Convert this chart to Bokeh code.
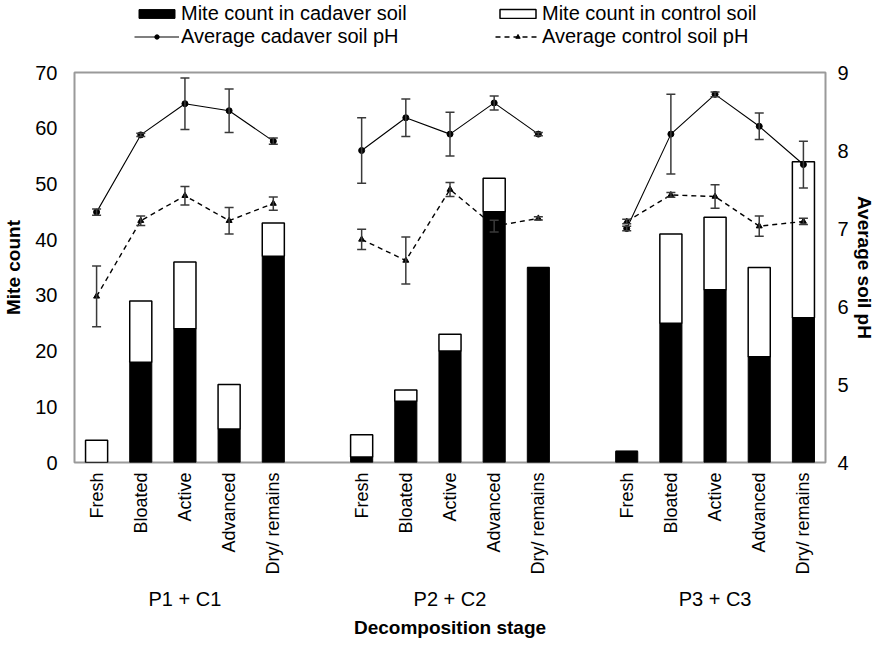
import math
from bokeh.plotting import figure
from bokeh.layouts import column
from bokeh.models import (ColumnDataSource, FactorRange, Range1d, LinearAxis, Whisker,
                          TeeHead, Legend, LegendItem, FixedTicker)
from bokeh.embed import file_html
from bokeh.resources import INLINE

groups = ["P1 + C1", "P2 + C2", "P3 + C3"]
stages = ["Fresh", "Bloated", "Active", "Advanced", "Dry/ remains"]

cadaver_counts = [0, 18, 24, 6, 37, 1, 11, 20, 45, 35, 2, 25, 31, 19, 26]
control_counts = [4, 11, 12, 8, 6, 4, 2, 3, 6, 0, 0, 16, 13, 16, 28]

ph_cadaver = [7.21, 8.20, 8.60, 8.51, 8.12, 8.00, 8.42, 8.21, 8.61, 8.21, 7.00, 8.21, 8.72, 8.31, 7.82]
ph_cadaver_err = [0.04, 0.02, 0.33, 0.28, 0.04, 0.42, 0.24, 0.28, 0.09, 0.02, 0.03, 0.51, 0.03, 0.17, 0.30]
ph_control = [6.13, 7.10, 7.42, 7.10, 7.32, 6.86, 6.59, 7.50, 7.03, 7.13, 7.09, 7.43, 7.41, 7.03, 7.09]
ph_control_err = [0.39, 0.06, 0.12, 0.17, 0.085, 0.13, 0.30, 0.09, 0.075, 0.02, 0.03, 0.03, 0.15, 0.13, 0.04]

left_ticks = [0, 10, 20, 30, 40, 50, 60, 70]
right_ticks = [4, 5, 6, 7, 8, 9]

legend_labels = ["Mite count in cadaver soil", "Average cadaver soil pH",
                 "Mite count in control soil", "Average control soil pH"]

factors = [(g, s) for g in groups for s in stages]
totals = [a + b for a, b in zip(cadaver_counts, control_counts)]

src = ColumnDataSource(dict(
    x=factors, cad=cadaver_counts, tot=totals,
    phc=ph_cadaver, phc_up=[v + e for v, e in zip(ph_cadaver, ph_cadaver_err)],
    phc_lo=[v - e for v, e in zip(ph_cadaver, ph_cadaver_err)],
    phk=ph_control, phk_up=[v + e for v, e in zip(ph_control, ph_control_err)],
    phk_lo=[v - e for v, e in zip(ph_control, ph_control_err)],
))

FONT = "Liberation Sans"
GRID = "#9a9a9a"

xr = FactorRange(*factors, factor_padding=0, group_padding=1.0, range_padding=0)

# ---------------- legend strip (hidden copies of the series, legend only) ----------------
pl = figure(width=877, height=57, output_backend="svg", toolbar_location=None,
            x_axis_type=None, y_axis_type=None, min_border=0,
            x_range=xr, y_range=Range1d(100, 101))
pl.outline_line_color = None
pl.xgrid.grid_line_color = None
pl.ygrid.grid_line_color = None
lg_cad_bar = pl.vbar(x="x", top="cad", bottom=0, width=0.5, source=src,
                     fill_color="black", line_color="black", visible=False)
lg_ctl_bar = pl.vbar(x="x", top="tot", bottom="cad", width=0.5, source=src,
                     fill_color="white", line_color="black", line_width=1.5, visible=False)
lg_cad_line = pl.line(x="x", y="phc", source=src, line_color="black", line_width=1.1,
                      visible=False)
lg_cad_pt = pl.scatter(x="x", y="phc", source=src, marker="circle", size=6,
                       fill_color="black", line_color="black", visible=False)
lg_ctl_line = pl.line(x="x", y="phk", source=src, line_color="black", line_width=1.4,
                      line_dash="5 4", visible=False)
lg_ctl_pt = pl.scatter(x="x", y="phk", source=src, marker="triangle", size=6,
                       fill_color="black", line_color="black", visible=False)
legend = Legend(items=[
    LegendItem(label=legend_labels[0], renderers=[lg_cad_bar]),
    LegendItem(label=legend_labels[1], renderers=[lg_cad_line, lg_cad_pt]),
    LegendItem(label=legend_labels[2], renderers=[lg_ctl_bar]),
    LegendItem(label=legend_labels[3], renderers=[lg_ctl_line, lg_ctl_pt]),
], ncols=2, location=(60, 9), glyph_width=45, glyph_height=11, label_standoff=2,
    label_width=314, spacing=0, padding=0, margin=0, border_line_color=None,
    background_fill_alpha=0, inactive_fill_alpha=0, label_text_font=FONT,
    label_text_font_size="20px", label_text_color="black", click_policy="none")
pl.add_layout(legend, "center")

# ---------------- main chart ----------------
p = figure(x_range=xr, y_range=Range1d(0, 70), width=877, height=598,
           output_backend="svg", toolbar_location=None,
           min_border_left=69, min_border_right=40, min_border_top=15, min_border_bottom=193)
p.extra_y_ranges = {"ph": Range1d(4, 9)}

p.background_fill_color = "white"
p.border_fill_color = "white"
p.outline_line_color = GRID
p.outline_line_width = 2
p.xgrid.grid_line_color = None
p.ygrid.grid_line_color = None

p.vbar(x="x", top="cad", bottom=0, width=0.5, source=src,
       fill_color="black", line_color="black", line_width=1)
p.vbar(x="x", top="tot", bottom="cad", width=0.5, source=src,
       fill_color="white", line_color="black", line_width=1.5)

for i, g in enumerate(groups):
    sl = slice(i * len(stages), (i + 1) * len(stages))
    gs = ColumnDataSource(dict(x=factors[sl], phc=ph_cadaver[sl], phk=ph_control[sl]))
    p.line(x="x", y="phc", source=gs, y_range_name="ph", line_color="black", line_width=1.1)
    p.line(x="x", y="phk", source=gs, y_range_name="ph", line_color="black",
           line_width=1.4, line_dash="5 4")

for up, lo in (("phc_up", "phc_lo"), ("phk_up", "phk_lo")):
    w = Whisker(base="x", upper=up, lower=lo, source=src, y_range_name="ph",
                line_color="#3a3a3a", line_width=1.5, level="annotation",
                upper_head=TeeHead(size=9, line_color="#3a3a3a", line_width=1.5),
                lower_head=TeeHead(size=9, line_color="#3a3a3a", line_width=1.5))
    p.add_layout(w)

p.scatter(x="x", y="phc", source=src, y_range_name="ph", marker="circle",
          size=6, fill_color="black", line_color="black")
p.scatter(x="x", y="phk", source=src, y_range_name="ph", marker="triangle",
          size=6, fill_color="black", line_color="black")

# Left axis
ya = p.yaxis[0]
ya.ticker = FixedTicker(ticks=left_ticks)
ya.axis_label = "Mite count"
ya.axis_label_text_font = FONT
ya.axis_label_text_font_style = "bold"
ya.axis_label_text_font_size = "19px"
ya.axis_label_text_color = "black"
ya.axis_label_standoff = 8
ya.major_label_text_font = FONT
ya.major_label_text_font_size = "20px"
ya.major_label_text_color = "black"
ya.major_label_standoff = 17
ya.axis_line_color = None
ya.major_tick_line_color = None
ya.minor_tick_line_color = None
ya.major_tick_out = 0
ya.major_tick_in = 0

# Right axis
ra = LinearAxis(y_range_name="ph", ticker=FixedTicker(ticks=right_ticks))
ra.axis_label = "Average soil pH"
ra.axis_label_text_font = FONT
ra.axis_label_text_font_style = "bold"
ra.axis_label_text_font_size = "19px"
ra.axis_label_text_color = "black"
ra.axis_label_standoff = 2
ra.major_label_text_font = FONT
ra.major_label_text_font_size = "20px"
ra.major_label_text_color = "black"
ra.major_label_standoff = 12
ra.axis_line_color = None
ra.major_tick_line_color = None
ra.minor_tick_line_color = None
ra.major_tick_out = 0
ra.major_tick_in = 0
p.add_layout(ra, "right")

# x axis
xa = p.xaxis[0]
xa.axis_label = "Decomposition stage"
xa.axis_label_text_font = FONT
xa.axis_label_text_font_style = "bold"
xa.axis_label_text_font_size = "19px"
xa.axis_label_text_color = "black"
xa.axis_label_standoff = 4
xa.major_label_orientation = math.pi / 2
xa.major_label_text_font = FONT
xa.major_label_text_font_size = "18px"
xa.major_label_text_color = "black"
xa.major_label_standoff = 10
xa.group_text_font = FONT
xa.group_text_font_size = "20px"
xa.group_text_font_style = "normal"
xa.group_text_color = "black"
xa.separator_line_color = None
xa.axis_line_color = None
xa.major_tick_line_color = None
xa.major_tick_out = 0
xa.major_tick_in = 0

layout = column(pl, p, spacing=0)
open("out.html", "w").write(file_html(layout, INLINE))
